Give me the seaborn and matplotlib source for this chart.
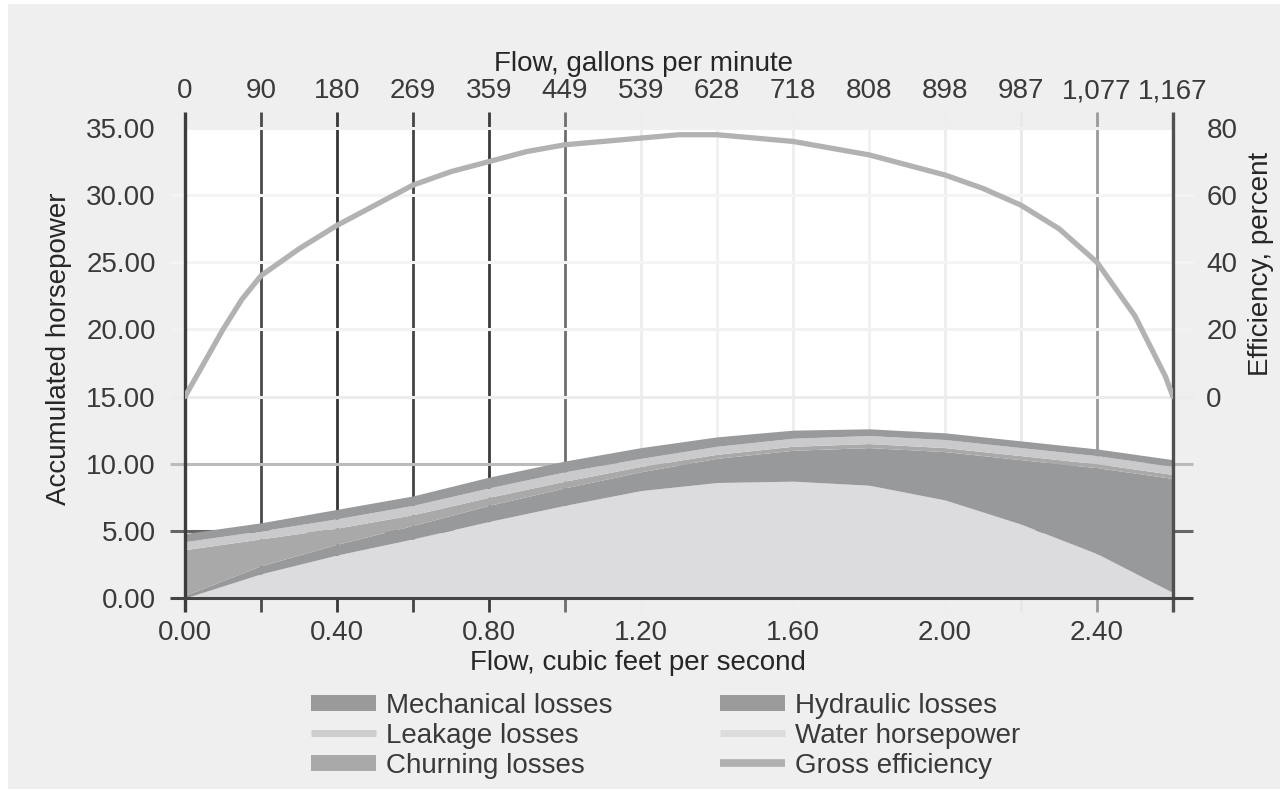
import pandas as pd
import matplotlib
matplotlib.use('Agg')
import matplotlib.pyplot as plt
import seaborn as sns
from matplotlib.lines import Line2D
from matplotlib.patches import Rectangle

# --- data ---
FLOW_CFS = [0.0, 0.2, 0.4, 0.6, 0.8, 1.0, 1.2, 1.4, 1.6, 1.8, 2.0, 2.2, 2.4, 2.6]
WATER_HP = [0.0, 1.8, 3.2, 4.4, 5.7, 6.9, 8.0, 8.6, 8.7, 8.4, 7.3, 5.5, 3.3, 0.4]
HYDRAULIC = [0.2, 0.6, 0.8, 1.0, 1.2, 1.3, 1.4, 1.8, 2.3, 2.8, 3.6, 4.8, 6.4, 8.5]
CHURNING = [3.4, 2.0, 1.2, 0.8, 0.6, 0.5, 0.4, 0.3, 0.3, 0.3, 0.3, 0.3, 0.3, 0.3]
LEAKAGE = [0.6, 0.6, 0.7, 0.7, 0.7, 0.7, 0.6, 0.6, 0.6, 0.6, 0.6, 0.6, 0.6, 0.6]
MECHANICAL = [0.6, 0.6, 0.7, 0.7, 0.8, 0.8, 0.8, 0.7, 0.6, 0.5, 0.5, 0.5, 0.5, 0.5]

EFF_FLOW = [0.0, 0.05, 0.1, 0.15, 0.2, 0.3, 0.4, 0.5, 0.6, 0.7, 0.8, 0.9, 1.0, 1.1, 1.2,
            1.3, 1.4, 1.5, 1.6, 1.7, 1.8, 1.9, 2.0, 2.1, 2.2, 2.3, 2.4, 2.5, 2.58, 2.6]
EFFICIENCY = [0, 10, 20, 29, 36, 44, 51, 57, 63, 67, 70, 73, 75, 76, 77,
              78, 78, 77, 76, 74, 72, 69, 66, 62, 57, 50, 40, 24, 6, 0]

BOTTOM_TICKS = [0.0, 0.4, 0.8, 1.2, 1.6, 2.0, 2.4]
TOP_TICKS = [0.0, 0.2, 0.4, 0.6, 0.8, 1.0, 1.2, 1.4, 1.6, 1.8, 2.0, 2.2, 2.4, 2.6]
GPM_LABELS = ['0', '90', '180', '269', '359', '449', '539', '628', '718',
              '808', '898', '987', '1,077', '1,167']
HP_TICKS = [0, 5, 10, 15, 20, 25, 30, 35]
EFF_TICKS = [0, 20, 40, 60, 80]

# --- styling ---
V_LINE_COLORS = ['#3c3c3c', '#4a4a4a', '#353535', '#444444', '#3a3a3a', '#6e6e6e', '#ededed',
                 '#f0f0f0', '#eeeeee', '#f0f0f0', '#eeeeee', '#e8e8e8', '#9a9a9a', '#505050']
H_LINE_COLORS = ['#444444', '#666666', '#bbbbbb', '#ececec', '#f2f2f2', '#f4f4f4', '#f4f4f4', '#f0f0f0']
STACK_COLORS = ['#dcdcde', '#98999b', '#a9a9a9', '#cacacc', '#999a9c']
TEXT = '#3a3a3a'
FS = 20

sns.set_theme(style='white')
plt.rcParams['font.family'] = ['Liberation Sans', 'DejaVu Sans']
plt.rcParams['text.color'] = TEXT
plt.rcParams['xtick.color'] = TEXT
plt.rcParams['ytick.color'] = TEXT

W, H = 1280, 795
fig = plt.figure(figsize=(12.8, 7.95), dpi=100, facecolor='white')
fig.patches.append(Rectangle((8 / W, 6 / H), 1 - 8 / W, 1 - 10 / H, transform=fig.transFigure,
                             facecolor='#efefef', edgecolor='none', zorder=-10))
ax = fig.add_axes([185 / W, 1 - 598 / H, 988 / W, 470 / H])
ax.set_facecolor('white')
ax.set_xlim(0, 2.6)
ax.set_ylim(0, 35)

# grid lines (they run past the plot, standing in for tick marks)
for x, c in zip(TOP_TICKS, V_LINE_COLORS):
    edge = x in (0.0, 2.6)
    ax.vlines(x, -1.05, 36.2, colors=c, lw=2.4 if edge else 2.0,
              zorder=4 if edge else 1, clip_on=False)
for y, c in zip(HP_TICKS, H_LINE_COLORS):
    ax.hlines(y, -0.04, 2.653, colors=c, lw=2.2, zorder=1 if y else 4, clip_on=False)

ax.stackplot(FLOW_CFS, WATER_HP, HYDRAULIC, CHURNING, LEAKAGE, MECHANICAL,
             colors=STACK_COLORS, lw=0, zorder=2)

for s in ax.spines.values():
    s.set_visible(False)
ax.set_xticks(BOTTOM_TICKS, [f'{v:.2f}' for v in BOTTOM_TICKS])
ax.set_yticks(HP_TICKS, [f'{v:.2f}' for v in HP_TICKS])
ax.tick_params(axis='x', length=0, pad=16, labelsize=FS)
ax.tick_params(axis='y', length=0, pad=21, labelsize=FS)
ax.set_xlabel('Flow, cubic feet per second', fontsize=FS)
ax.xaxis.set_label_coords(0.4585, -0.11)
ax.set_ylabel('Accumulated horsepower', fontsize=FS)
ax.yaxis.set_label_coords(-0.114, 0.53)

# top axis: gallons per minute
ax_top = ax.twiny()
ax_top.set_xlim(0, 2.6)
ax_top.set_xticks(TOP_TICKS, GPM_LABELS)
ax_top.tick_params(axis='x', length=0, pad=17, labelsize=FS)
ax_top.set_xlabel('Flow, gallons per minute', fontsize=FS)
ax_top.xaxis.set_label_coords(0.4636, 1.122)
for s in ax_top.spines.values():
    s.set_visible(False)

# right axis: efficiency
ax_eff = ax.twinx()
ax_eff.set_ylim(-60, 80)
eff_df = pd.DataFrame({'flow': EFF_FLOW, 'efficiency': EFFICIENCY})
sns.lineplot(data=eff_df, x='flow', y='efficiency', ax=ax_eff, color='#b2b2b2', lw=3.8,
             zorder=5)
ax_eff.set_xlim(0, 2.6)
ax_eff.set_yticks(EFF_TICKS, [str(v) for v in EFF_TICKS])
ax_eff.tick_params(axis='y', length=0, pad=24, labelsize=FS)
ax_eff.set_ylabel('Efficiency, percent', fontsize=FS, rotation=90)
ax_eff.yaxis.set_label_coords(1.076, 0.71)
for s in ax_eff.spines.values():
    s.set_visible(False)

# legend
handles = [
    Line2D([0], [0], color='#9a9a9a', lw=11.5, solid_capstyle='butt'),
    Line2D([0], [0], color='#cdcdcd', lw=5, solid_capstyle='butt'),
    Line2D([0], [0], color='#a9a9a9', lw=11.5, solid_capstyle='butt'),
    Line2D([0], [0], color='#9b9b9b', lw=11.5, solid_capstyle='butt'),
    Line2D([0], [0], color='#dcdcdc', lw=5, solid_capstyle='butt'),
    Line2D([0], [0], color='#b0b0b0', lw=5.5, solid_capstyle='butt'),
]
labels = ['Mechanical losses', 'Leakage losses', 'Churning losses',
          'Hydraulic losses', 'Water horsepower', 'Gross efficiency']
fig.legend(handles, labels, ncol=2, loc='center', bbox_to_anchor=(0.52, 0.0745),
           frameon=False, fontsize=FS, handlelength=2.34, handletextpad=0.36,
           columnspacing=3.9, labelspacing=0.15, borderpad=0)

fig.savefig('out.png', dpi=100, facecolor=fig.get_facecolor())
